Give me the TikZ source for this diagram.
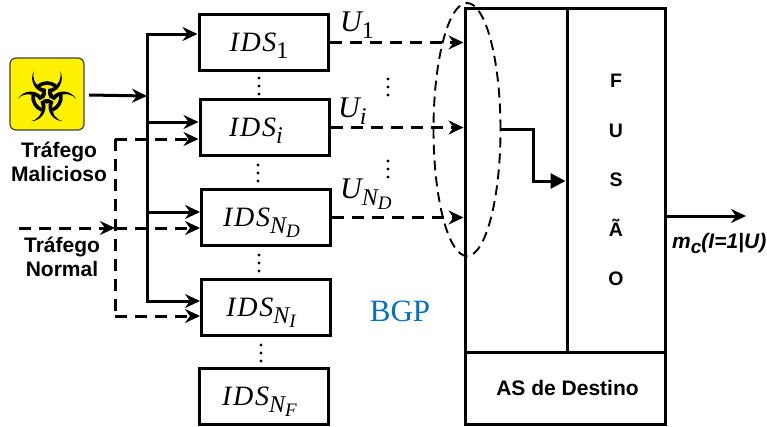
\documentclass[tikz,border=0pt]{standalone}
\usepackage{fontspec}
\setmainfont{Liberation Sans}
\newfontfamily\serifx{Liberation Serif}
\newfontfamily\serifsp[LetterSpace=6]{Liberation Serif}
\usetikzlibrary{arrows.meta,shapes.geometric}
\newcommand{\subpart}[2]{\smash{\raisebox{-7pt}{\fontsize{24}{24}\selectfont #1\raisebox{-4pt}{\fontsize{19}{19}\selectfont\itshape #2}}}}
\newcommand{\idsname}[3]{{\serifsp\fontsize{28}{28}\selectfont\itshape IDS\serifx\subpart{#1}{#2}\hspace*{#3}}}
\newcommand{\ulab}[2]{U\subpart{#1}{#2}}
\tikzset{
  idsbox/.style={draw,line width=3pt,minimum width=129pt,minimum height=56pt,inner sep=0pt},
  panel/.style={draw,line width=3pt,inner sep=0pt},
  flow/.style={line width=3pt,-{Stealth[length=15pt,width=14pt,inset=5pt]}},
  flowdash/.style={flow,dash pattern=on 12pt off 8pt},
  lbl/.style={font=\fontsize{21}{24}\selectfont\bfseries,align=center,inner sep=0pt},
  ulabel/.style={font=\serifx\fontsize{30}{30}\selectfont\itshape,inner sep=0pt},
}
\begin{document}
\begin{tikzpicture}[x=1pt,y=-1pt]
\useasboundingbox (0,0) rectangle (767,426);
% source
\node[draw=black!75,fill=yellow,line width=1.2pt,rounded corners=6pt,minimum width=74pt,minimum height=72pt,inner sep=0pt] (bio) at (47,94) {};
\fill[black] (47,97) circle (6.5pt);
\foreach \a in {90,210,330}{
  \begin{scope}[shift={(47,97)},x=1pt,y=1pt,rotate=\a]
    \fill[black] (26,13) arc[start angle=61.2,end angle=298.8,radius=14.84] arc[start angle=288.3,end angle=71.7,radius=13.7] -- cycle;
    \draw[black,line width=3.6pt] (-38:14) arc[start angle=-38,end angle=38,radius=14];
    \draw[yellow,line width=1.3pt] (0,0) -- (9,0);
  \end{scope}
}
\fill[yellow] (47,97) circle (2.2pt);
\node[lbl] (malicioso) at (59,162) {Tráfego\\Malicioso};
\node[lbl] (normal) at (62,257) {Tráfego\\Normal};
% IDS boxes
\node[idsbox] (ids1) at (263.5,42.5) {\idsname{\upshape 1}{}{9pt}};
\node[idsbox] (idsi) at (264.5,127.5) {\idsname{i}{}{17pt}};
\node[idsbox] (idsd) at (266,217.5) {\idsname{N}{D}{9pt}};
\node[idsbox] (idsI) at (266,307) {\idsname{N}{I}{10pt}};
\node[idsbox] (idsF) at (264,396) {\idsname{N}{F}{9pt}};
% right block
\node[panel,minimum width=102pt,minimum height=344pt] (col) at (516,180) {};
\node[panel,minimum width=98pt,minimum height=344pt,font=\fontsize{19.5}{49.5}\selectfont\bfseries,align=center] (fus) at (616,180) {F\\U\\S\\Ã\\O};
\node[panel,minimum width=200pt,minimum height=72pt,font=\fontsize{21}{24}\selectfont\bfseries] (asd) at (565,388) {\hspace*{5pt}AS de Destino};
\node[draw,line width=1.9pt,dash pattern=on 10pt off 6pt,ellipse,minimum width=67pt,minimum height=253pt,inner sep=0pt] (elip) at (467,129.5) {};
% trunk
\coordinate (t0) at (147,34);
\coordinate (t1) at (147,96);
\coordinate (t2) at (147,122);
\coordinate (t3) at (147,212);
\coordinate (t4) at (147,301);
\draw[line width=3pt,line cap=rect] (t0) -- (t4);
\draw[flow] (t0) -- (t0 -| ids1.west);
\draw[flow] (t2) -- (t2 -| idsi.west);
\draw[flow] (t3) -- (t3 -| idsd.west);
\draw[flow] (t4) -- (t4 -| idsI.west);
\coordinate (bout) at (89,95);
\draw[flow] (bout) -- (t1);
% dashed normal traffic
\coordinate (n0) at (19,228);
\coordinate (n1) at (115,228);
\coordinate (d0) at (115,139);
\coordinate (d1) at (115,316);
\draw[flowdash] (n0) -- (n1);
\draw[line width=3pt,dash pattern=on 12pt off 8pt] (d0) -- (d1);
\draw[flowdash] (d0) -- (d0 -| idsi.west);
\draw[flowdash] (n1) -- (n1 -| idsd.west);
\draw[flowdash] (d1) -- (d1 -| idsI.west);
% outputs
\draw[flowdash] (ids1.east) -- (ids1.east -| col.west);
\draw[flowdash] (idsi.east) -- (idsi.east -| col.west);
\draw[flowdash] (idsd.east) -- (idsd.east -| col.west);
\node[ulabel,anchor=base west] (u1) at (340,31) {\ulab{\upshape 1}{}};
\node[ulabel,anchor=base west] (ui) at (338,117) {\ulab{i}{}};
\node[ulabel,anchor=base west] (ud) at (340,198) {\ulab{N}{D}};
% fusion link
\coordinate (f0) at (500,129);
\coordinate (f1) at (533,129);
\coordinate (f2) at (533,181);
\draw[line width=3pt,-{Triangle[length=15pt,width=15pt]}] (f0) -- (f1) -- (f2) -- (f2 -| fus.west);
\coordinate (o0) at (665,216);
\coordinate (o1) at (746,216);
\draw[flow] (o0) -- (o1);
\node[font=\fontsize{21}{24}\selectfont\bfseries\itshape,anchor=west,inner sep=0pt] (mc) at (672,243) {m\raisebox{-5pt}{\fontsize{19}{19}\selectfont c}(I=1|U)};
\node[font=\serifx\fontsize{31}{31}\selectfont,text={rgb,255:red,0;green,112;blue,192},inner sep=0pt] (bgp) at (400,311) {BGP};
% dots
\foreach \x/\y in {259/86,258/173,259/263,261/353,388/87,388/169}{
  \foreach \k in {-8,0,8}{\fill (\x,\y+\k) circle (1.6pt);}
}
\end{tikzpicture}
\end{document}
